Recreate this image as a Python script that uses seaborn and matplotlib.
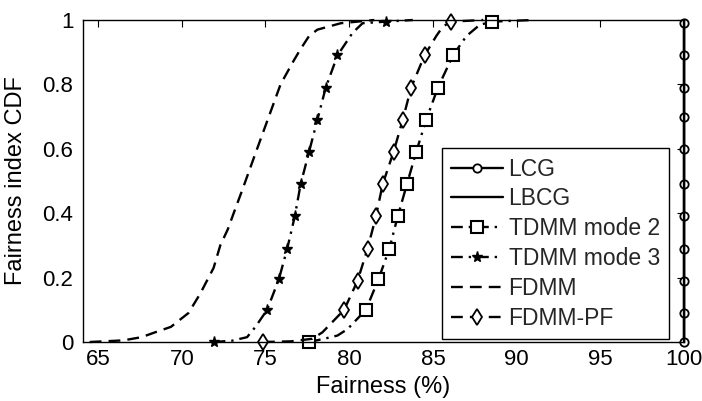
import numpy as np
import pandas as pd
import matplotlib
matplotlib.use("Agg")
import matplotlib.pyplot as plt
import seaborn as sns

# ---- data ----
lcg_x = [100, 100, 100, 100, 100, 100, 100, 100, 100, 100, 100]
lcg_y = [0.0, 0.09, 0.19, 0.29, 0.39, 0.49, 0.60, 0.70, 0.79, 0.89, 0.99]

lbcg_x = [100, 100]
lbcg_y = [0.0, 1.0]

tdmm2_x = [77.6, 78.5, 79.3, 79.9, 81.0, 81.75, 82.4, 82.9, 83.45, 84.0, 84.6, 85.3, 86.2, 87.0, 87.8, 88.55, 91.0]
tdmm2_y = [0.0, 0.01, 0.02, 0.04, 0.10, 0.195, 0.29, 0.39, 0.49, 0.59, 0.69, 0.79, 0.89, 0.95, 0.985, 0.995, 1.0]
tdmm2_marks = [0, 4, 5, 6, 7, 8, 9, 10, 11, 12, 15]

tdmm3_x = [71.9, 73.0, 73.9, 74.4, 75.1, 75.8, 76.3, 76.75, 77.1, 77.6, 78.1, 78.6, 79.3, 80.2, 80.8, 82.2, 83.8]
tdmm3_y = [0.0, 0.004, 0.015, 0.047, 0.10, 0.195, 0.29, 0.39, 0.49, 0.59, 0.69, 0.79, 0.89, 0.96, 0.99, 0.995, 1.0]
tdmm3_marks = [0, 4, 5, 6, 7, 8, 9, 10, 11, 12, 15]

fdmm_x = [64.5, 66.5, 67.6, 68.4, 69.35, 70.4, 71.1, 71.9, 72.3, 72.75, 73.1, 73.6,
          74.5, 75.2, 75.9, 76.7, 77.1, 77.6, 78.1, 79.5, 81.5]
fdmm_y = [0.0, 0.005, 0.015, 0.03, 0.047, 0.09, 0.15, 0.23, 0.30, 0.35, 0.40, 0.47,
          0.60, 0.70, 0.80, 0.875, 0.91, 0.95, 0.97, 0.99, 1.0]

fdmmpf_x = [74.85, 76.5, 77.8, 78.4, 79.7, 80.5, 81.1, 81.6, 82.0, 82.65, 83.2, 83.7, 84.5, 85.2, 85.6, 86.1, 88.0]
fdmmpf_y = [0.0, 0.002, 0.01, 0.03, 0.10, 0.19, 0.29, 0.39, 0.49, 0.59, 0.69, 0.79, 0.89, 0.95, 0.98, 0.995, 1.0]
fdmmpf_marks = [0, 4, 5, 6, 7, 8, 9, 10, 11, 12, 15]

x_ticks = [65, 70, 75, 80, 85, 90, 95, 100]
y_ticks = [0, 0.2, 0.4, 0.6, 0.8, 1.0]
y_tick_labels = ["0", "0.2", "0.4", "0.6", "0.8", "1"]

# ---- style ----
sns.set_theme(style="white")
plt.rcParams["font.family"] = ["Liberation Sans", "DejaVu Sans"]
plt.rcParams["xtick.direction"] = "in"
plt.rcParams["ytick.direction"] = "in"

fig = plt.figure(figsize=(7.02, 4.01), dpi=100)
ax = fig.add_axes([83 / 702, 1 - 342 / 401, (684 - 83) / 702, (342 - 20) / 401])

lw = 1.7
common = dict(color="black", linewidth=lw, estimator=None, sort=False, clip_on=False, ax=ax)

sns.lineplot(x=lcg_x, y=lcg_y, label="LCG", linestyle="-", marker="o", markersize=6,
             markerfacecolor="white", markeredgecolor="black", markeredgewidth=1.3, **common)
sns.lineplot(x=lbcg_x, y=lbcg_y, label="LBCG", linestyle="-", **common)
sns.lineplot(x=tdmm2_x, y=tdmm2_y, label="TDMM mode 2", linestyle=(0, (5, 2.5, 1, 2.5)),
             marker="s", markersize=8, markevery=tdmm2_marks, markerfacecolor="white",
             markeredgecolor="black", markeredgewidth=1.5, **common)
sns.lineplot(x=tdmm3_x, y=tdmm3_y, label="TDMM mode 3", linestyle=(0, (5, 2.5, 1, 2.5)),
             marker="*", markersize=8, markevery=tdmm3_marks, markerfacecolor="black",
             markeredgecolor="black", markeredgewidth=1.0, **common)
sns.lineplot(x=fdmm_x, y=fdmm_y, label="FDMM", linestyle=(0, (5, 3)), **common)
sns.lineplot(x=fdmmpf_x, y=fdmmpf_y, label="FDMM-PF", linestyle=(0, (5, 3)),
             marker="d", markersize=8, markevery=fdmmpf_marks, markerfacecolor="white",
             markeredgecolor="black", markeredgewidth=1.3, **common)

ax.set_xlim(64.1, 100)
ax.set_ylim(0, 1)
ax.set_xticks(x_ticks)
ax.set_yticks(y_ticks)
ax.set_yticklabels(y_tick_labels)
ax.tick_params(axis="both", which="both", direction="in", length=5, width=0.8,
               top=True, right=True, labelsize=16, colors="black")
ax.tick_params(axis="y", pad=7)
ax.tick_params(axis="x", pad=5)
for s in ax.spines.values():
    s.set_color("black")
    s.set_linewidth(1.0)

ax.set_xlabel("Fairness (%)", fontsize=17, color="black", labelpad=4)
ax.set_ylabel("Fairness index CDF", fontsize=17, color="black", labelpad=11)

leg = ax.legend(loc="lower right", bbox_to_anchor=(0.975, 0.009), fontsize=16.5,
                frameon=True, fancybox=False, framealpha=1, edgecolor="black",
                handlelength=2.26, handletextpad=0.26, labelspacing=0.3,
                borderpad=0.4, borderaxespad=0)
leg.get_frame().set_linewidth(1.0)

fig.savefig("out.png", dpi=100)
